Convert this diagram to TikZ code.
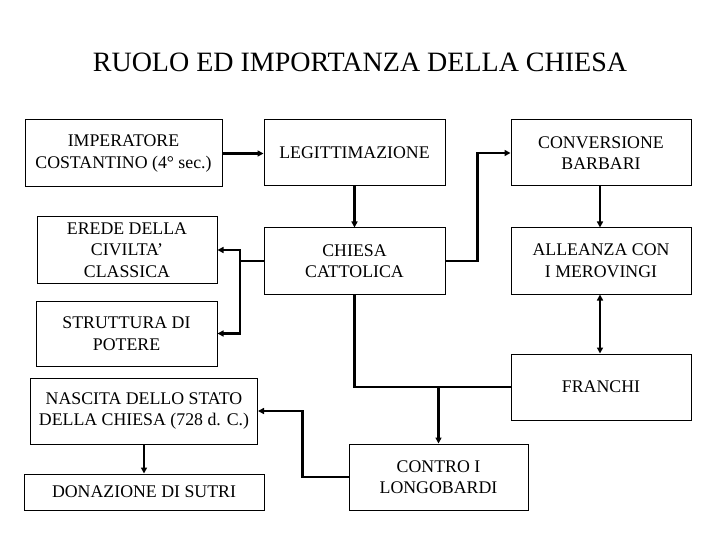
\documentclass[tikz,border=0pt]{standalone}
\usepackage{fontspec}
\setmainfont{Liberation Serif}
\usetikzlibrary{arrows.meta}
\begin{document}
\begin{tikzpicture}[x=1pt,y=-1pt,
  box/.style={draw=black,line width=1pt,inner sep=0pt,align=center,font=\fontsize{17.8}{21.6}\selectfont},
  conn/.style={line width=2.4pt},
  arr/.style={conn,-{Triangle[length=6pt,width=6pt]}},
  darr/.style={conn,{Triangle[length=6pt,width=6pt]}-{Triangle[length=6pt,width=6pt]}}]
\useasboundingbox (0,0) rectangle (720,540);
\node[font=\fontsize{28}{32}\selectfont] (title) at (360,62) {RUOLO ED IMPORTANZA DELLA CHIESA};
\node[box,minimum width=197pt,minimum height=67pt] (imp) at (123.5,153.5) {IMPERATORE\\COSTANTINO (4° sec.)};
\node[box,minimum width=181pt,minimum height=66pt] (leg) at (354.5,153) {LEGITTIMAZIONE};
\node[box,minimum width=180pt,minimum height=66pt] (conv) at (601,153) {CONVERSIONE\\BARBARI};
\node[box,minimum width=180pt,minimum height=66pt] (erede) at (127,250) {EREDE DELLA\\CIVILTA’\\CLASSICA};
\node[box,minimum width=181pt,minimum height=66pt] (chiesa) at (354.5,261) {CHIESA\\CATTOLICA};
\node[box,minimum width=180pt,minimum height=66pt] (all) at (601,261) {ALLEANZA CON\\I MEROVINGI};
\node[box,minimum width=181pt,minimum height=65pt] (strutt) at (126.5,333.5) {STRUTTURA DI\\POTERE};
\node[box,minimum width=180pt,minimum height=66pt] (franchi) at (601,387) {FRANCHI};
\node[box,minimum width=227pt,minimum height=66pt] (nascita) at (144,411) {NASCITA DELLO STATO\\DELLA CHIESA (728 d. C.)};
\node[box,minimum width=179pt,minimum height=66pt] (contro) at (438.5,477) {CONTRO I\\LONGOBARDI};
\node[box,minimum width=240pt,minimum height=36pt] (donaz) at (144,492) {DONAZIONE DI SUTRI};
\coordinate (j1) at (240,261);
\coordinate (j2) at (438.5,387);
\draw[arr] (imp.east) -- (imp.east -| leg.west);
\draw[arr] (leg.south) -- (chiesa.north);
\draw[arr] (chiesa.east) -- ++(32,0) |- (conv.west);
\draw[conn] (chiesa.west) -- (j1);
\draw[arr] (j1) |- (erede.east);
\draw[arr] (j1) |- (strutt.east);
\draw[arr] (conv.south -| 600,0) -- (all.north -| 600,0);
\draw[darr] (all.south -| 600,0) -- (franchi.north -| 600,0);
\draw[conn] (chiesa.south) |- (j2);
\draw[conn] (franchi.west) -- (j2);
\draw[arr] (j2) -- (contro.north);
\draw[arr] (contro.west) -- ++(-46,0) |- (nascita.east);
\draw[arr] (nascita.south) -- (donaz.north);
\end{tikzpicture}
\end{document}
